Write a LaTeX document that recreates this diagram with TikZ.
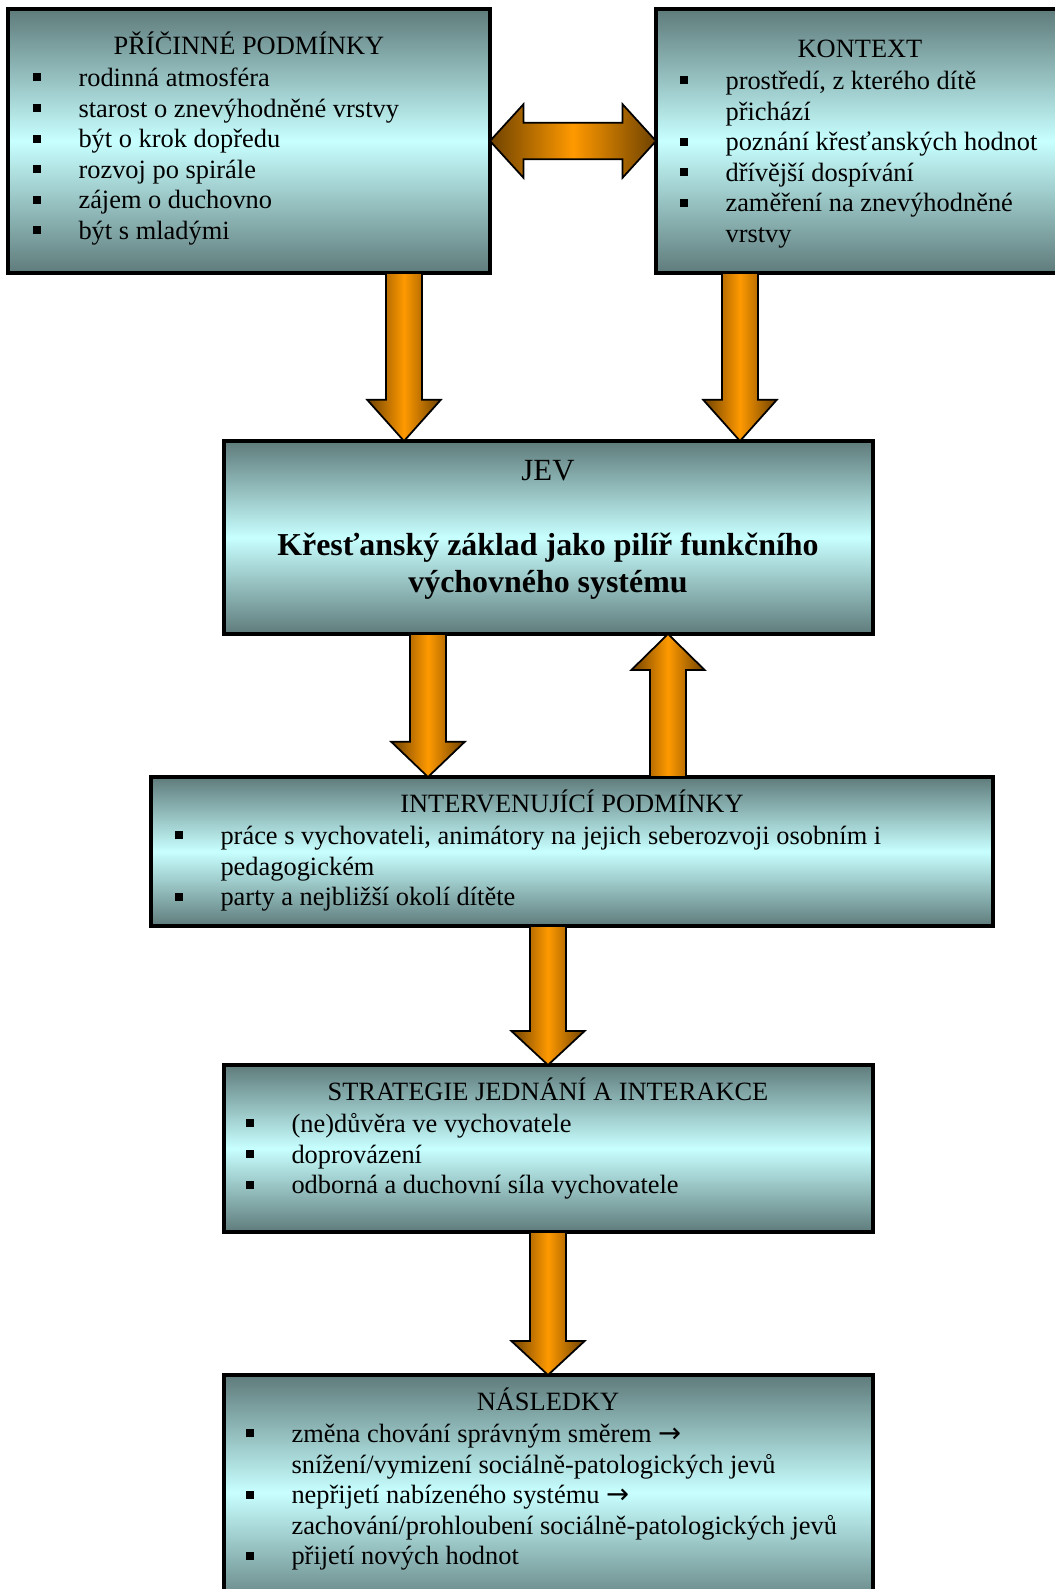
\documentclass[tikz,border=0pt]{standalone}
\usepackage{fontspec}
\setmainfont{Liberation Serif}
\newfontfamily\symfont{DejaVu Sans}
\usepackage{tikz}
\usetikzlibrary{positioning,fit,calc}

\definecolor{boxdark}{RGB}{95,123,123}
\definecolor{boxlight}{RGB}{200,255,255}
\definecolor{arrorange}{RGB}{255,153,0}
\definecolor{arrbrown}{RGB}{110,66,0}

\newcommand{\bulitem}{\makebox[20.5pt][l]{\raisebox{2.3pt}{\rule{3.6pt}{3.6pt}}}}
\newcommand{\bulcont}{\hspace*{20.5pt}}
\newcommand{\thenarrow}{{\symfont\fontsize{12.5}{13.9}\selectfont →}}

\begin{document}
\begin{tikzpicture}[
		x=0.4545pt, y=-0.4545pt,
		box/.style={
			draw,
			line width=1.6pt,
			inner sep=0pt,
			outer sep=0pt,
			top color=boxdark,
			bottom color=boxdark,
			middle color=boxlight
		},
		head/.style={
			anchor=base,
			inner sep=0pt,
			font=\fontsize{12}{13.9}\selectfont
		},
		items/.style={
			anchor=north west,
			inner sep=0pt,
			align=left,
			font=\fontsize{12}{13.9}\selectfont
		},
		fatarrow/.style={
			draw,
			line width=0.8pt,
			left color=arrbrown,
			right color=arrbrown,
			middle color=arrorange
		},
		fatdown/.style={
			fatarrow,
			to path={let \p1=(\tikztostart), \p2=(\tikztotarget) in
				(\x1-8.2pt,\y1) -- (\x1-8.2pt,\y2+#1) -- (\x1-16.7pt,\y2+#1) -- (\x2,\y2)
				-- (\x1+16.7pt,\y2+#1) -- (\x1+8.2pt,\y2+#1) -- (\x1+8.2pt,\y1) -- cycle}
		},
		fatup/.style={
			fatarrow,
			to path={let \p1=(\tikztostart), \p2=(\tikztotarget) in
				(\x1-8.2pt,\y1) -- (\x1-8.2pt,\y2-#1) -- (\x1-16.7pt,\y2-#1) -- (\x2,\y2)
				-- (\x1+16.7pt,\y2-#1) -- (\x1+8.2pt,\y2-#1) -- (\x1+8.2pt,\y1) -- cycle}
		},
		fatboth/.style={
			fatarrow,
			to path={let \p1=(\tikztostart), \p2=(\tikztotarget) in
				(\x1,\y1) -- (\x1+#1,\y1+16.7pt) -- (\x1+#1,\y1+8.3pt) -- (\x2-#1,\y1+8.3pt)
				-- (\x2-#1,\y1+16.7pt) -- (\x2,\y2) -- (\x2-#1,\y1-16.7pt) -- (\x2-#1,\y1-8.3pt)
				-- (\x1+#1,\y1-8.3pt) -- (\x1+#1,\y1-16.7pt) -- cycle}
		}
		]
		
		\useasboundingbox (0,0) rectangle (1055,1589);
		
		\node[box, fit={(8,9) (490,273)}] (cause) {};
		\node[box, fit={(656,9) (1065,273)}] (context) {};
		\node[box, fit={(224,441) (873,634)}] (phen) {};
		\node[box, fit={(151,777) (993,926)}] (interv) {};
		\node[box, fit={(224,1065) (873,1232)}] (strat) {};
		\node[box, fit={(224,1375) (873,1610)}] (cons) {};
		
		\node[head] at (249,54) (causehead) {PŘÍČINNÉ PODMÍNKY};
		\node[items] at (33,64.6) (causeitems) {\strut\bulitem rodinná atmosféra\\
			\bulitem starost o znevýhodněné vrstvy\\
			\bulitem být o krok dopředu\\
			\bulitem rozvoj po spirále\\
			\bulitem zájem o duchovno\\
			\bulitem být s mladými};
		
		\node[head] at (860,57) (contexthead) {KONTEXT};
		\node[items] at (680,67.6) (contextitems) {\strut\bulitem prostředí, z kterého dítě\\
			\bulcont přichází\\
			\bulitem poznání křesťanských hodnot\\
			\bulitem dřívější dospívání\\
			\bulitem zaměření na znevýhodněné\\
			\bulcont vrstvy};
		
		\node[head, font=\fontsize{14}{17}\selectfont] at (548,480) (phenhead) {JEV};
		\node[anchor=north, inner sep=0pt, align=center,
			font=\fontsize{14.5}{17}\selectfont\bfseries] at (548,528.8) (phentext)
			{\strut Křesťanský základ jako pilíř funkčního\\výchovného systému};
		
		\node[head] at (572,812) (intervhead) {INTERVENUJÍCÍ PODMÍNKY};
		\node[items] at (175,822.6) (intervitems) {\strut\bulitem práce s vychovateli, animátory na jejich seberozvoji osobním i\\
			\bulcont pedagogickém\\
			\bulitem party a nejbližší okolí dítěte};
		
		\node[head] at (548,1100) (strathead) {STRATEGIE JEDNÁNÍ A INTERAKCE};
		\node[items] at (246,1110.6) (stratitems) {\strut\bulitem (ne)důvěra ve vychovatele\\
			\bulitem doprovázení\\
			\bulitem odborná a duchovní síla vychovatele};
		
		\node[head] at (548,1410) (conshead) {NÁSLEDKY};
		\node[items] at (246,1420.6) (consitems) {\strut\bulitem změna chování správným směrem \thenarrow\\
			\bulcont snížení/vymizení sociálně-patologických jevů\\
			\bulitem nepřijetí nabízeného systému \thenarrow\\
			\bulcont zachování/prohloubení sociálně-patologických jevů\\
			\bulitem přijetí nových hodnot};
		
		\draw[fatboth=15.2pt] (cause.east |- 0,141) to (context.west |- 0,141);
		\draw[fatdown=18.7pt] (cause.south -| 404,0) to (phen.north -| 404,0);
		\draw[fatdown=18.7pt] (context.south -| 740,0) to (phen.north -| 740,0);
		\draw[fatdown=16pt] (phen.south -| 428,0) to (interv.north -| 428,0);
		\draw[fatup=16.4pt] (interv.north -| 668,0) to (phen.south -| 668,0);
		\draw[fatdown=15.5pt] (interv.south -| 548,0) to (strat.north -| 548,0);
		\draw[fatdown=15.5pt] (strat.south -| 548,0) to (cons.north -| 548,0);
		
		\end{tikzpicture}
\end{document}
